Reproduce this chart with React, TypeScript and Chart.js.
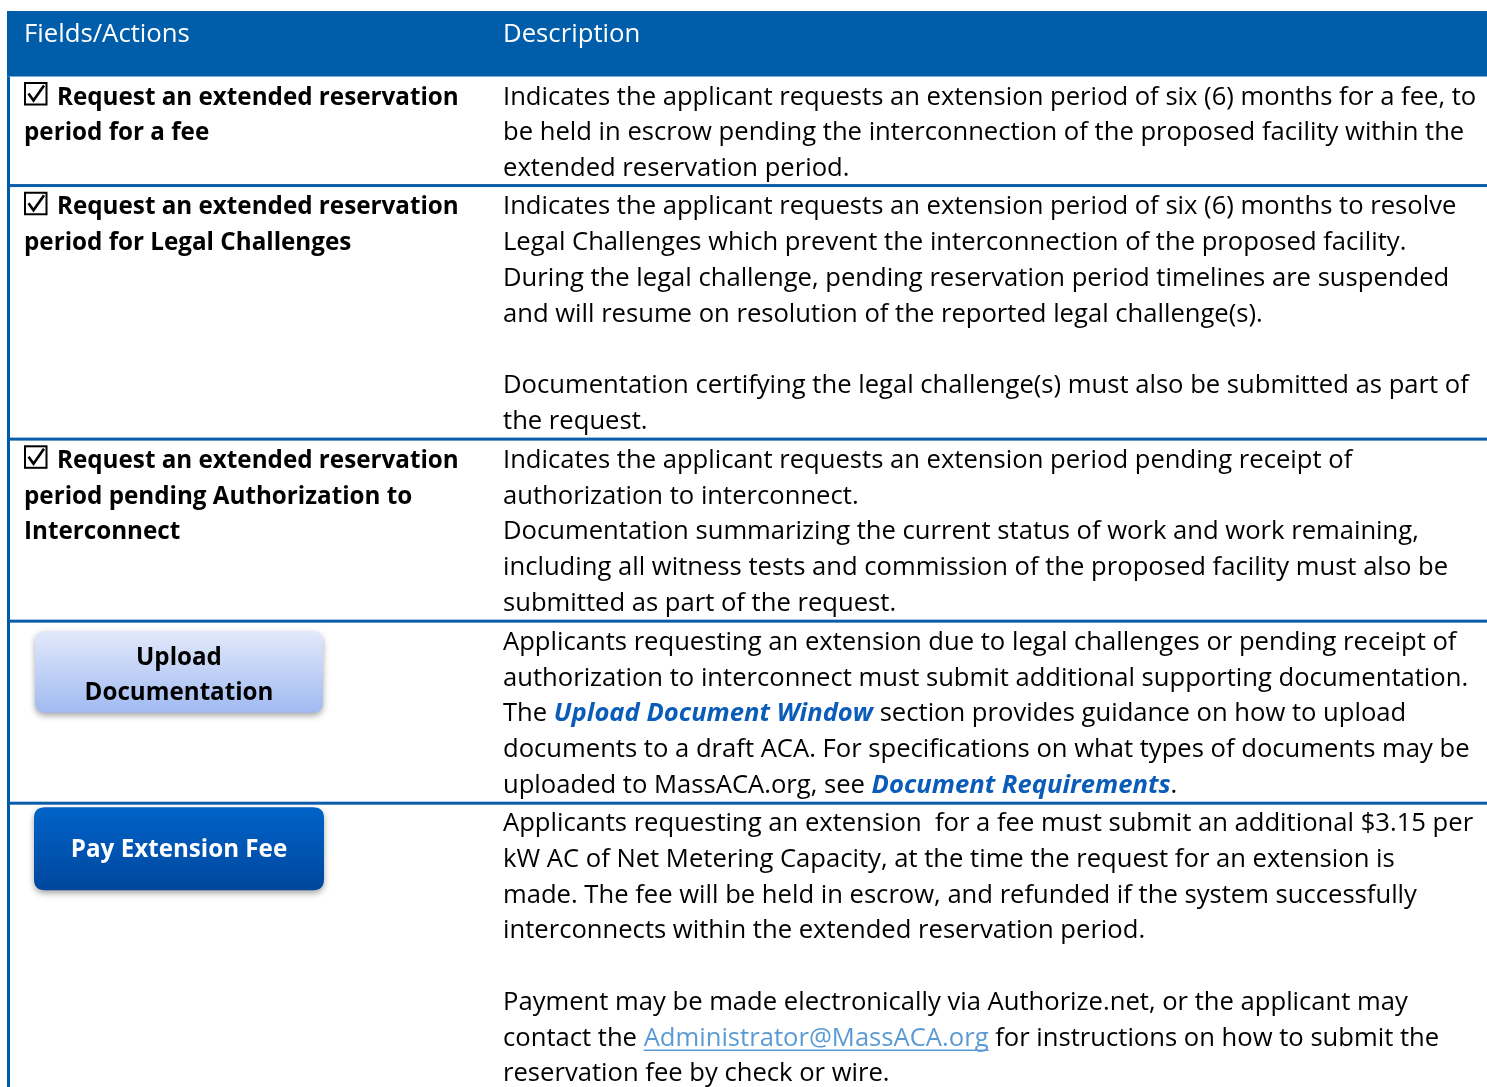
import React, { useEffect, useRef } from "react";
import { Chart, registerables } from "chart.js";

Chart.register(...registerables);

const W = 1487;
const H = 1087;

const headerLabels = ["Fields/Actions", "Description"];

const fieldKinds = ["check", "check", "check", "lightButton", "darkButton"];

const fieldLabels = [
  ["Request an extended reservation", "period for a fee"],
  ["Request an extended reservation", "period for Legal Challenges"],
  ["Request an extended reservation", "period pending Authorization to", "Interconnect"],
  ["Upload", "Documentation"],
  ["Pay Extension Fee"],
];

const descriptions = [
  [
    "Indicates the applicant requests an extension period of six (6) months for a fee, to",
    "be held in escrow pending the interconnection of the proposed facility within the",
    "extended reservation period.",
  ],
  [
    "Indicates the applicant requests an extension period of six (6) months to resolve",
    "Legal Challenges which prevent the interconnection of the proposed facility.",
    "During the legal challenge, pending reservation period timelines are suspended",
    "and will resume on resolution of the reported legal challenge(s).",
    "",
    "Documentation certifying the legal challenge(s) must also be submitted as part of",
    "the request.",
  ],
  [
    "Indicates the applicant requests an extension period pending receipt of",
    "authorization to interconnect.",
    "Documentation summarizing the current status of work and work remaining,",
    "including all witness tests and commission of the proposed facility must also be",
    "submitted as part of the request.",
  ],
  [
    "Applicants requesting an extension due to legal challenges or pending receipt of",
    "authorization to interconnect must submit additional supporting documentation.",
    "The *Upload Document Window* section provides guidance on how to upload",
    "documents to a draft ACA. For specifications on what types of documents may be",
    "uploaded to MassACA.org, see *Document Requirements*.",
  ],
  [
    "Applicants requesting an extension  for a fee must submit an additional $3.15 per",
    "kW AC of Net Metering Capacity, at the time the request for an extension is",
    "made. The fee will be held in escrow, and refunded if the system successfully",
    "interconnects within the extended reservation period.",
    "",
    "Payment may be made electronically via Authorize.net, or the applicant may",
    "contact the _Administrator@MassACA.org_ for instructions on how to submit the",
    "reservation fee by check or wire.",
  ],
];

const FAMILY = '"Open Sans", "DejaVu Sans", sans-serif';
const BLUE = "#005DAA";
const SEP_BLUE = "#0B5DA9";
const LINK_BLUE = "#0A5CB8";
const MAIL_BLUE = "#5B9BD5";

const fontStr = (size: number, weight = "normal", style = "normal") =>
  `${style} ${weight} ${size}px ${FAMILY}`;

function fitSize(ctx: CanvasRenderingContext2D, weight: string, text: string, target: number) {
  ctx.font = fontStr(100, weight);
  const w = ctx.measureText(text).width;
  return (100 * target) / w;
}

function roundRect(ctx: CanvasRenderingContext2D, x: number, y: number, w: number, h: number, r: number) {
  ctx.beginPath();
  ctx.moveTo(x + r, y);
  ctx.lineTo(x + w - r, y);
  ctx.quadraticCurveTo(x + w, y, x + w, y + r);
  ctx.lineTo(x + w, y + h - r);
  ctx.quadraticCurveTo(x + w, y + h, x + w - r, y + h);
  ctx.lineTo(x + r, y + h);
  ctx.quadraticCurveTo(x, y + h, x, y + h - r);
  ctx.lineTo(x, y + r);
  ctx.quadraticCurveTo(x, y, x + r, y);
  ctx.closePath();
}

function drawRich(ctx: CanvasRenderingContext2D, line: string, x: number, y: number, size: number) {
  const parts = line.split(/(\*[^*]+\*|_[^_]+_)/).filter((p) => p.length > 0);
  let cx = x;
  for (const p of parts) {
    let text = p;
    let font = fontStr(size);
    let color = "#000000";
    let underline = false;
    if (p.startsWith("*") && p.endsWith("*")) {
      text = p.slice(1, -1);
      font = fontStr(size, "bold", "italic");
      color = LINK_BLUE;
    } else if (p.startsWith("_") && p.endsWith("_")) {
      text = p.slice(1, -1);
      color = MAIL_BLUE;
      underline = true;
    }
    ctx.font = font;
    ctx.fillStyle = color;
    ctx.fillText(text, cx, y);
    const w = ctx.measureText(text).width;
    if (underline) ctx.fillRect(cx, y + 4, w, 1.5);
    cx += w;
  }
}

const tablePlugin = {
  id: "tableDraw",
  afterDraw(chart: any) {
    const ctx: CanvasRenderingContext2D = chart.ctx;
    const xs = chart.scales.x;
    const ys = chart.scales.y;
    const X = (v: number) => xs.getPixelForValue(v);
    const Y = (v: number) => ys.getPixelForValue(v);

    ctx.save();
    ctx.textBaseline = "alphabetic";
    ctx.textAlign = "left";

    const descSize = fitSize(ctx, "normal", descriptions[0][0], 974);
    const boldSize = fitSize(ctx, "bold", fieldLabels[0][0], 402);
    const headSize = fitSize(ctx, "normal", headerLabels[0], 166);
    const btnSize = fitSize(ctx, "bold", fieldLabels[3][1], 189);

    const LEFT = 7;
    const COL1 = 24;
    const COL2 = 503;
    const LH = 35.75;
    const SEP = 3;
    const headTop = 11;
    const headBottom = 76.5;

    // background
    ctx.fillStyle = "#ffffff";
    ctx.fillRect(X(0), Y(0), X(W) - X(0), Y(H) - Y(0));

    // header
    ctx.fillStyle = BLUE;
    ctx.fillRect(X(LEFT), Y(headTop), X(W) - X(LEFT), Y(headBottom) - Y(headTop));
    ctx.fillStyle = "#ffffff";
    ctx.font = fontStr(headSize);
    ctx.fillText(headerLabels[0], X(COL1), Y(41.5));
    ctx.fillText(headerLabels[1], X(COL2), Y(41.5));

    // rows
    let rowTop = headBottom;
    descriptions.forEach((lines, i) => {
      const base = rowTop + (i === 0 ? 28 : i === 4 ? 26.3 : 27.2);
      // description
      lines.forEach((ln, j) => {
        if (ln) drawRich(ctx, ln, X(COL2), Y(base + j * LH), descSize);
      });
      // field column
      const kind = fieldKinds[i];
      const labels = fieldLabels[i];
      if (kind === "check") {
        const bx = 25, by = base - 21.5, bw = 21.5, bh = 21.5;
        ctx.strokeStyle = "#000000";
        ctx.lineWidth = 2;
        ctx.strokeRect(X(bx), Y(by), X(bx + bw) - X(bx), Y(by + bh) - Y(by));
        ctx.lineWidth = 2.6;
        ctx.lineJoin = "miter";
        ctx.beginPath();
        ctx.moveTo(X(bx + 3.5), Y(by + 10.5));
        ctx.lineTo(X(bx + 8.5), Y(by + 17.5));
        ctx.lineTo(X(bx + 19), Y(by + 2.5));
        ctx.stroke();
        ctx.fillStyle = "#000000";
        ctx.font = fontStr(boldSize, "bold");
        labels.forEach((t, j) => {
          ctx.fillText(t, X(j === 0 ? 57 : COL1), Y(base + j * LH));
        });
      } else {
        const light = kind === "lightButton";
        const bx = light ? 35 : 34;
        const bw = light ? 288 : 290;
        const by = light ? rowTop + 8.3 : rowTop + 2.5;
        const bh = light ? 81.7 : 83;
        ctx.save();
        ctx.shadowColor = "rgba(0,0,0,0.35)";
        ctx.shadowBlur = 6;
        ctx.shadowOffsetY = 3;
        const g = ctx.createLinearGradient(0, Y(by), 0, Y(by + bh));
        if (light) {
          g.addColorStop(0, "#E2E9FB");
          g.addColorStop(1, "#A0BAF1");
        } else {
          g.addColorStop(0, "#0063C9");
          g.addColorStop(1, "#00479C");
        }
        ctx.fillStyle = g;
        roundRect(ctx, X(bx), Y(by), X(bx + bw) - X(bx), Y(by + bh) - Y(by), 11);
        ctx.fill();
        ctx.restore();
        ctx.textAlign = "center";
        ctx.font = fontStr(btnSize, "bold");
        ctx.fillStyle = light ? "#000000" : "#ffffff";
        const cxm = X(bx + bw / 2);
        if (labels.length === 2) {
          ctx.fillText(labels[0], cxm, Y(by + 34));
          ctx.fillText(labels[1], cxm, Y(by + 69));
        } else {
          ctx.fillText(labels[0], cxm, Y(by + 50));
        }
        ctx.textAlign = "left";
      }
      const sepY = rowTop + lines.length * LH + 0.3;
      ctx.fillStyle = SEP_BLUE;
      ctx.fillRect(X(LEFT), Y(sepY), X(W) - X(LEFT), Y(sepY + SEP) - Y(sepY));
      rowTop = sepY + SEP;
    });

    // left border
    ctx.fillStyle = BLUE;
    ctx.fillRect(X(LEFT), Y(headBottom), X(LEFT + 3) - X(LEFT), Y(H) - Y(headBottom));

    ctx.restore();
  },
};

export default function App() {
  const ref = useRef<HTMLCanvasElement | null>(null);
  useEffect(() => {
    if (!ref.current) return;
    const chart = new Chart(ref.current, {
      type: "scatter",
      data: { datasets: [] },
      options: {
        animation: false,
        responsive: false,
        devicePixelRatio: 1,
        layout: { padding: 0 },
        plugins: { legend: { display: false }, tooltip: { enabled: false } },
        scales: {
          x: { type: "linear", min: 0, max: W, display: false },
          y: { type: "linear", min: 0, max: H, reverse: true, display: false },
        },
      },
      plugins: [tablePlugin],
    } as any);
    return () => chart.destroy();
  }, []);
  return (
    <div style={{ position: "fixed", left: 0, top: 0, width: W, height: H, background: "#fff" }}>
      <canvas ref={ref} width={W} height={H} style={{ display: "block", width: W, height: H }} />
    </div>
  );
}
